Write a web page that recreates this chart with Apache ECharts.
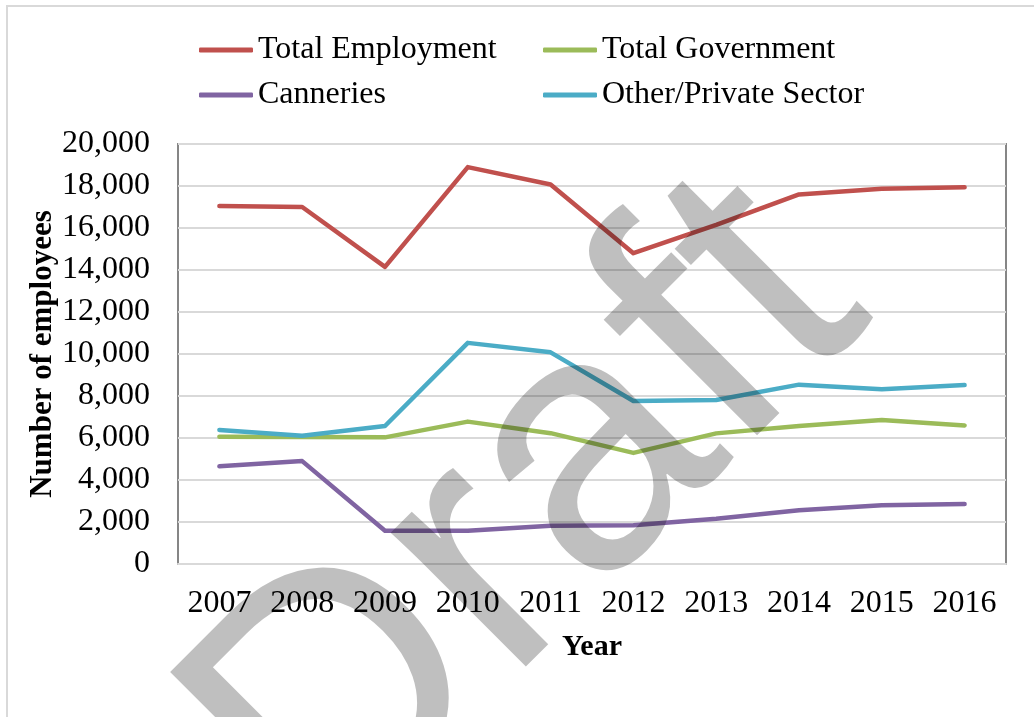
<!DOCTYPE html>
<html>
<head>
<meta charset="utf-8">
<script src="https://cdn.jsdelivr.net/npm/echarts@6/dist/echarts.min.js"></script>
<style>
html,body{margin:0;padding:0;background:#fff;}
#chart{width:1034px;height:717px;}
</style>
</head>
<body>
<div id="chart"></div>
<script>
var years = ['2007','2008','2009','2010','2011','2012','2013','2014','2015','2016'];
var totalEmployment = [17050, 17000, 14150, 18900, 18070, 14800, 16150, 17600, 17870, 17940];
var totalGovernment = [6060, 6050, 6030, 6780, 6230, 5290, 6220, 6570, 6860, 6600];
var canneries = [4650, 4900, 1580, 1580, 1820, 1840, 2150, 2560, 2800, 2860];
var otherPrivate = [6380, 6110, 6570, 10530, 10080, 7760, 7810, 8540, 8320, 8520];
var seriesNames = ['Total Employment', 'Total Government', 'Canneries', 'Other/Private Sector'];
var seriesColors = ['#c0504d', '#9bbb59', '#8064a2', '#4bacc6'];
var seriesData = [totalEmployment, totalGovernment, canneries, otherPrivate];

var FONT = 'Liberation Serif';
var chart = echarts.init(document.getElementById('chart'));

function mkLegend(name, left, top) {
  return {
    data: [name], left: left, top: top, padding: 0,
    icon: 'roundRect', itemWidth: 54, itemHeight: 5, itemGap: 0,
    textStyle: {fontFamily: FONT, fontSize: 32, color: '#000', lineHeight: 36}
  };
}

var option = {
  animation: false,
  backgroundColor: '#fff',
  legend: [
    mkLegend(seriesNames[0], 199, 32),
    mkLegend(seriesNames[1], 543, 32),
    mkLegend(seriesNames[2], 199, 77),
    mkLegend(seriesNames[3], 543, 77)
  ],
  grid: {left: 178, right: 28, top: 144, bottom: 153, show: true, borderColor: '#868686', borderWidth: 2},
  xAxis: {
    type: 'category', data: years, boundaryGap: true,
    name: 'Year', nameLocation: 'middle', nameGap: 68, nameMoveOverlap: false,
    nameTextStyle: {fontFamily: FONT, fontSize: 30, fontWeight: 'bold', color: '#000'},
    axisLine: {show: true, lineStyle: {color: '#d9d9d9', width: 2}},
    axisTick: {show: false},
    axisLabel: {fontFamily: FONT, fontSize: 32, color: '#000', margin: 24, interval: 0}
  },
  yAxis: {
    type: 'value', min: 0, max: 20000, interval: 2000,
    name: 'Number of employees', nameLocation: 'middle', nameGap: 120, nameMoveOverlap: false,
    nameTextStyle: {fontFamily: FONT, fontSize: 31, fontWeight: 'bold', color: '#000'},
    axisLine: {show: false}, axisTick: {show: false},
    splitLine: {lineStyle: {color: '#d9d9d9', width: 2}},
    axisLabel: {fontFamily: FONT, fontSize: 32, color: '#000', margin: 28,
      formatter: function (v) { return v.toLocaleString('en-US'); }}
  },
  series: seriesNames.map(function (n, i) {
    return {
      name: n, type: 'line', data: seriesData[i], symbol: 'none', showSymbol: false,
      color: seriesColors[i],
      lineStyle: {color: seriesColors[i], width: 4.5, cap: 'round', join: 'round'},
      itemStyle: {color: seriesColors[i]}
    };
  }),
  graphic: [
    {type: 'rect', shape: {x: 7, y: 6, width: 1040, height: 730}, style: {fill: 'none', stroke: '#d9d9d9', lineWidth: 2}, z: -1, silent: true},
    {type: 'text', x: 530, y: 522, rotation: Math.PI / 4, z: 100, silent: true,
      style: {text: 'Draft', font: '360px "Liberation Sans"', fill: 'rgba(0,0,0,0.25)', align: 'center', verticalAlign: 'middle'}}
  ]
};
chart.setOption(option);
</script>
</body>
</html>
